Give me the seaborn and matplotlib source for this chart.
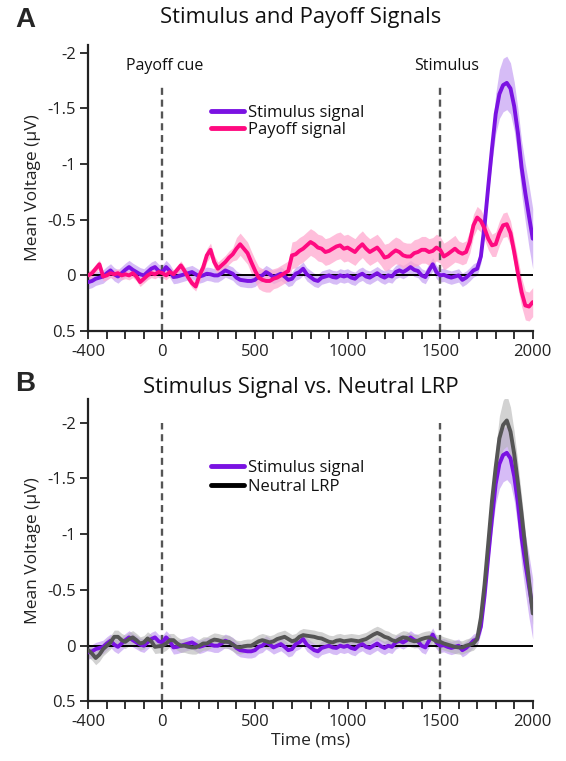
import numpy as np
import pandas as pd
import matplotlib
matplotlib.use("Agg")
import matplotlib.pyplot as plt
from matplotlib.lines import Line2D
import seaborn as sns

sns.set_theme(style="white")
plt.rcParams["font.family"] = ["Open Sans", "DejaVu Sans"]

# time axis (ms), 20 ms steps
time_ms = list(range(-400, 2001, 20))

# stimulus signal (uV), plotted with negative up
stimulus = [
    0.06, 0.05, 0.03, 0.02, 0.01, -0.02, -0.045, -0.01, 0.01, -0.02,
    -0.05, -0.075, -0.05, -0.03, -0.01, 0.0, -0.03, -0.06, -0.075, -0.04,
    -0.03, -0.075, -0.04, 0.015, 0.01, 0.0, -0.01, -0.02, -0.03, -0.01,
    0.01, 0.0, -0.015, -0.01, 0.0, 0.0, -0.02, -0.045, -0.03, -0.015,
    0.02, 0.04, 0.045, 0.05, 0.05, 0.04, 0.01, 0.0, -0.03, -0.01,
    0.015, 0.0, -0.015, 0.01, 0.04, 0.03, -0.015, -0.03, -0.06, -0.01,
    0.015, 0.04, 0.05, 0.02, 0.01, 0.0, 0.015, 0.02, 0.0, 0.01,
    0.0, 0.02, 0.03, 0.0, -0.015, 0.01, 0.02, 0.0, -0.02, 0.005,
    0.02, 0.0, 0.01, -0.03, -0.045, -0.03, -0.05, -0.075, -0.05, -0.04,
    0.0, 0.015, -0.045, -0.1, -0.03, 0.0, -0.005, 0.01, 0.02, 0.01,
    0.0, 0.04, 0.02, -0.01, -0.045, -0.06, -0.17, -0.45, -0.80, -1.14,
    -1.45, -1.63, -1.71, -1.73, -1.68, -1.52, -1.28, -0.97, -0.74, -0.53,
    -0.33,
]
stimulus_se = [0.06] * 107 + [0.07, 0.08, 0.12, 0.18, 0.22, 0.24, 0.24,
                              0.23, 0.22, 0.22, 0.24, 0.26, 0.28, 0.27]

# payoff signal (uV)
payoff = [
    0.0, -0.02, -0.06, -0.10, 0.01, 0.0, -0.02, -0.01, -0.02, 0.0,
    -0.01, 0.0, -0.02, 0.01, 0.06, 0.03, 0.0, -0.02, -0.01, -0.03,
    -0.02, 0.0, -0.03, -0.01, -0.05, -0.09, -0.04, 0.02, 0.07, 0.10,
    0.0, -0.07, -0.18, -0.23, -0.12, -0.06, -0.09, -0.12, -0.16, -0.19,
    -0.24, -0.28, -0.24, -0.20, -0.12, -0.045, 0.02, 0.04, 0.05, 0.05,
    0.03, 0.02, 0.0, -0.02, -0.04, -0.18, -0.19, -0.22, -0.24, -0.27,
    -0.30, -0.28, -0.25, -0.24, -0.21, -0.22, -0.24, -0.26, -0.27, -0.24,
    -0.25, -0.23, -0.21, -0.25, -0.28, -0.24, -0.21, -0.23, -0.25, -0.21,
    -0.16, -0.17, -0.20, -0.225, -0.21, -0.18, -0.17, -0.17, -0.20, -0.21,
    -0.23, -0.23, -0.21, -0.22, -0.25, -0.23, -0.17, -0.19, -0.215, -0.24,
    -0.21, -0.195, -0.21, -0.30, -0.45, -0.52, -0.49, -0.42, -0.33, -0.27,
    -0.28, -0.38, -0.45, -0.46, -0.38, -0.21, -0.02, 0.15, 0.27, 0.28,
    0.24,
]
payoff_se = ([0.04] * 30 + [0.06] * 10 + [0.10] * 10 + [0.09] * 5
             + [0.12] * 45 + [0.10] * 5 + [0.10] * 5 + [0.11] * 6 + [0.13] * 5)

# neutral LRP (uV)
neutral = [
    0.04, 0.07, 0.11, 0.08, 0.03, 0.0, -0.03, -0.08, -0.08, -0.05,
    -0.035, -0.06, -0.075, -0.05, -0.02, -0.03, -0.065, -0.04, 0.01, 0.005,
    0.0, -0.02, -0.05, -0.05, -0.02, 0.0, 0.0, 0.01, 0.015, 0.015,
    0.0, -0.02, -0.02, -0.04, -0.055, -0.05, -0.04, -0.035, -0.035, -0.01,
    0.01, 0.015, 0.005, 0.0, 0.0, -0.02, -0.04, -0.05, -0.04, -0.03,
    -0.04, -0.06, -0.07, -0.08, -0.06, -0.04, -0.05, -0.08, -0.095, -0.09,
    -0.085, -0.08, -0.07, -0.065, -0.05, -0.035, -0.03, -0.045, -0.05, -0.04,
    -0.045, -0.05, -0.045, -0.04, -0.05, -0.06, -0.08, -0.10, -0.115, -0.10,
    -0.08, -0.07, -0.05, -0.04, -0.06, -0.075, -0.07, -0.05, -0.04, -0.045,
    -0.06, -0.07, -0.075, -0.06, -0.04, -0.035, -0.02, -0.01, 0.0, 0.01,
    0.015, 0.015, 0.0, -0.01, -0.02, -0.06, -0.25, -0.55, -0.92, -1.30,
    -1.60, -1.86, -1.98, -2.02, -1.92, -1.72, -1.46, -1.18, -0.88, -0.58,
    -0.29,
]
neutral_se = [0.06] * 107 + [0.07, 0.09, 0.12, 0.16, 0.20, 0.22, 0.23,
                             0.22, 0.20, 0.18, 0.16, 0.14, 0.12, 0.10]

x_ticks = list(range(-400, 2001, 100))
x_labels = ["-400", "0", "500", "1000", "1500", "2000"]
y_ticks = [-2, -1.5, -1, -0.5, 0, 0.5]
y_labels = ["-2", "-1.5", "-1", "-0.5", "0", "0.5"]

PURPLE = "#7a12e2"
PURPLE_BAND = "#c9a6f4"
PINK = "#ff0a80"
PINK_BAND = "#ffa9cf"
GRAY = "#555555"
GRAY_BAND = "#b4b4b4"

df = pd.DataFrame({
    "time": time_ms * 3,
    "value": stimulus + payoff + neutral,
    "se": stimulus_se + payoff_se + neutral_se,
    "signal": (["Stimulus signal"] * len(time_ms) + ["Payoff signal"] * len(time_ms)
               + ["Neutral LRP"] * len(time_ms)),
})

fig = plt.figure(figsize=(5.66, 7.61), dpi=100)
ax_a = fig.add_axes([0.1560, 0.5650, 0.7852, 0.3758])
ax_b = fig.add_axes([0.1560, 0.0782, 0.7852, 0.3971])


def draw_trace(ax, name, color, band, alpha):
    d = df[df["signal"] == name]
    ax.fill_between(d["time"], d["value"] - d["se"], d["value"] + d["se"],
                    color=band, alpha=alpha, lw=0, zorder=1)
    sns.lineplot(data=d, x="time", y="value", ax=ax, color=color, lw=2.8,
                 legend=False, zorder=3, errorbar=None)


def style_axes(ax, ytop, dash_top):
    ax.axhline(0, color="black", lw=1.4, zorder=2)
    for xv in (0, 1500):
        ax.plot([xv, xv], [0.5, dash_top], color=GRAY, lw=1.7,
                ls=(0, (3.0, 2.0)), zorder=2.5)
    ax.set_xlim(-400, 2000)
    ax.set_ylim(0.5, ytop)
    ax.set_xticks(x_ticks)
    ax.set_xticklabels([str(t) if str(t) in x_labels else "" for t in x_ticks])
    ax.set_yticks(y_ticks)
    ax.set_yticklabels(y_labels)
    ax.tick_params(axis="both", direction="out", length=6, width=1.3,
                   color="#222222", labelsize=12, labelcolor="#222222", pad=3,
                   left=True, bottom=True)
    for s in ("top", "right"):
        ax.spines[s].set_visible(False)
    for s in ("left", "bottom"):
        ax.spines[s].set_linewidth(1.6)
        ax.spines[s].set_color("#222222")
    ax.set_ylabel("Mean Voltage (µV)", fontsize=12.5, color="#222222", labelpad=4)
    ax.set_xlabel("")
    ax.set_facecolor("white")


# Panel A
draw_trace(ax_a, "Stimulus signal", PURPLE, PURPLE_BAND, 0.75)
draw_trace(ax_a, "Payoff signal", PINK, PINK_BAND, 0.75)
style_axes(ax_a, -2.07, -1.72)
ax_a.text(15, -1.88, "Payoff cue", ha="center", va="center", fontsize=11.5, color="#111111")
ax_a.text(1537, -1.88, "Stimulus", ha="center", va="center", fontsize=11.5, color="#111111")
leg_a = ax_a.legend(
    handles=[Line2D([], [], color=PURPLE, lw=3.5), Line2D([], [], color=PINK, lw=3.5)],
    labels=["Stimulus signal", "Payoff signal"],
    loc="upper left", bbox_to_anchor=(0.275, 0.79), frameon=False,
    fontsize=12, handlelength=2.0, handletextpad=0.25, labelspacing=0.05,
    borderpad=0, borderaxespad=0)

# Panel B
draw_trace(ax_b, "Stimulus signal", PURPLE, PURPLE_BAND, 0.75)
draw_trace(ax_b, "Neutral LRP", GRAY, GRAY_BAND, 0.6)
style_axes(ax_b, -2.21, -2.0)
ax_b.set_xlabel("Time (ms)", fontsize=12.5, color="#222222", labelpad=2)
leg_b = ax_b.legend(
    handles=[Line2D([], [], color=PURPLE, lw=3.5), Line2D([], [], color="black", lw=3.5)],
    labels=["Stimulus signal", "Neutral LRP"],
    loc="upper left", bbox_to_anchor=(0.275, 0.80), frameon=False,
    fontsize=12, handlelength=2.0, handletextpad=0.25, labelspacing=0.2,
    borderpad=0, borderaxespad=0)

for leg in (leg_a, leg_b):
    for t in leg.get_texts():
        t.set_color("#111111")

# titles and panel letters
fig.text(301 / 566, 1 - 18 / 761, "Stimulus and Payoff Signals", ha="center",
         va="center", fontsize=15.8, color="#111111")
fig.text(301 / 566, 1 - 388 / 761, "Stimulus Signal vs. Neutral LRP", ha="center",
         va="center", fontsize=15.8, color="#111111")
fig.text(25 / 566, 1 - 20 / 761, "A", ha="center", va="center", fontsize=20,
         fontweight="bold", family=["Liberation Sans", "DejaVu Sans"])
fig.text(25 / 566, 1 - 384 / 761, "B", ha="center", va="center", fontsize=20,
         fontweight="bold", family=["Liberation Sans", "DejaVu Sans"])

fig.savefig("out.png", dpi=100, facecolor="white")
